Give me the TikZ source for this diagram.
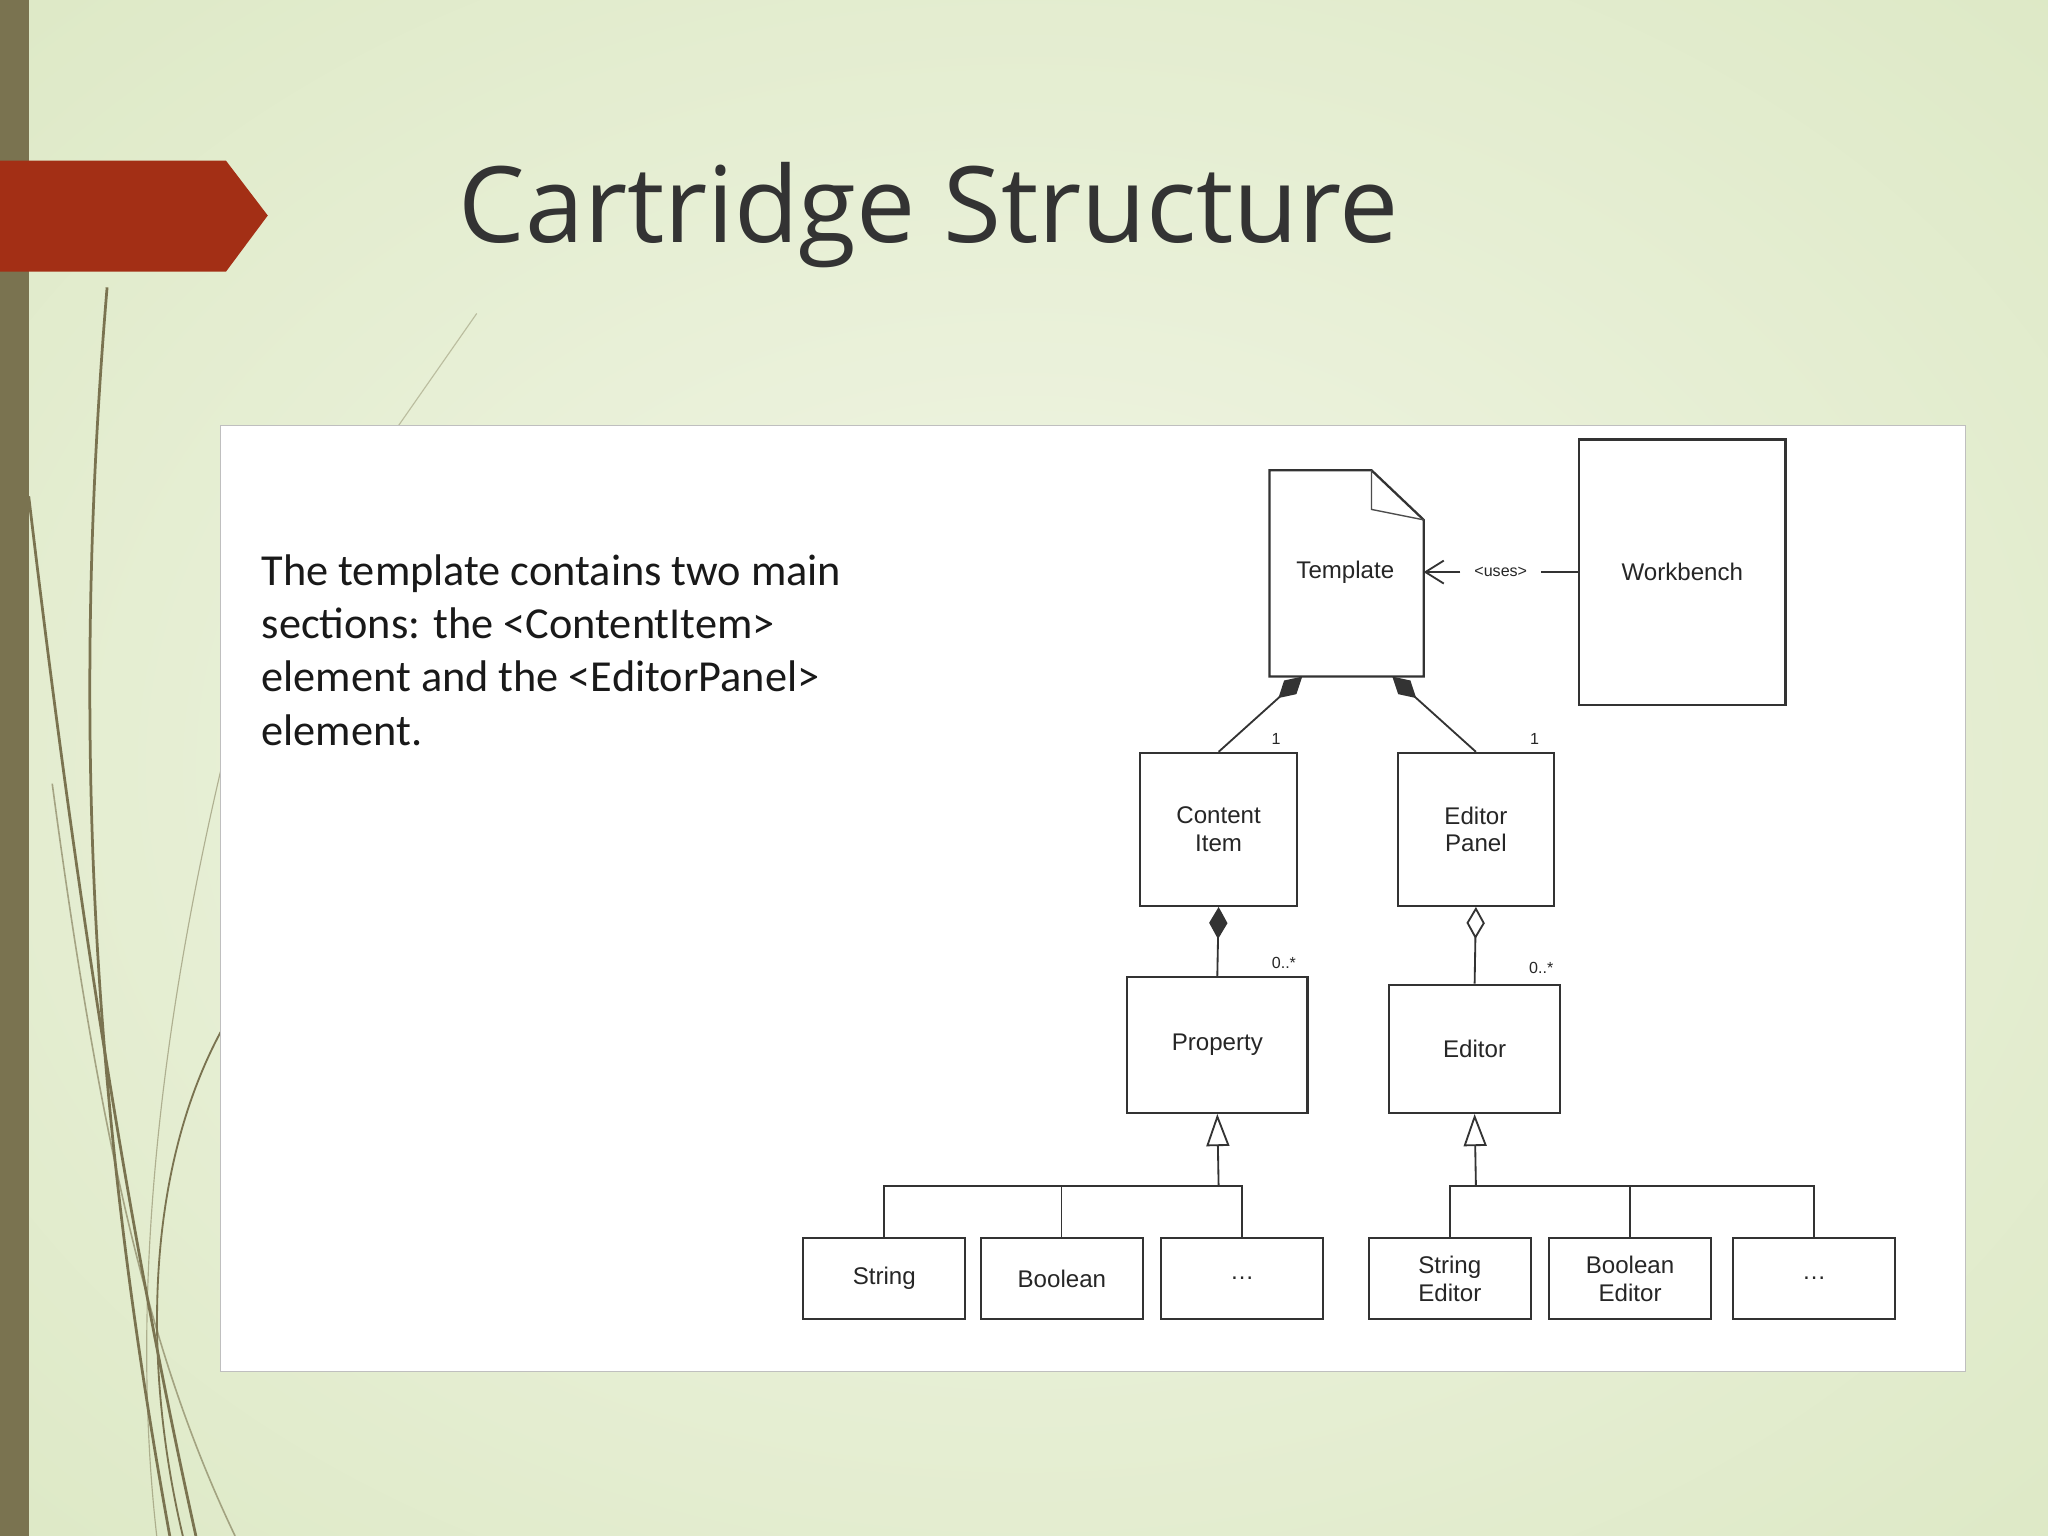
\documentclass[tikz,border=0pt]{standalone}
\usepackage{fontspec}
\setmainfont{Carlito}
\newfontfamily\diag{Liberation Sans}
\usetikzlibrary{arrows.meta,shapes.geometric}
\definecolor{bgA}{HTML}{F2F6E6}
\definecolor{bgB}{HTML}{DCE8C4}
\definecolor{bar}{HTML}{7A7350}
\definecolor{rd}{HTML}{A32F15}
\begin{document}
\begin{tikzpicture}[x=0.02cm,y=-0.02cm,
  box/.style={draw=black!80,line width=1pt,fill=white,inner sep=0pt,font=\diag\fontsize{10.5}{12}\selectfont,align=center,text=black!85},
  ln/.style={draw=black!80,line width=0.8pt},
  comp/.style={ln,{Diamond[length=14pt,width=8pt]}-},
  aggr/.style={ln,{Diamond[open,length=14pt,width=8pt]}-},
  inh/.style={ln,{Triangle[open,length=14pt,width=10pt]}-},
  mult/.style={font=\diag\fontsize{7}{8}\selectfont,text=black!85},
  deco/.style={draw=bar,line width=1.2pt}]
\useasboundingbox (0,0) rectangle (1568,1176);
\shade[inner color=bgA,outer color=bgB] (-400,-300) rectangle (1968,1476);
% decorative curves
\draw[deco] (22,380) .. controls (60,700) and (100,950) .. (150,1176);
\draw[deco] (82,220) .. controls (50,600) and (80,900) .. (130,1176);
\draw[deco,line width=0.7pt,opacity=0.6] (40,600) .. controls (80,900) and (120,1050) .. (180,1176);
\draw[deco,line width=0.8pt] (169,790) .. controls (110,900) and (110,1050) .. (140,1176);
\draw[deco,line width=0.5pt,opacity=0.5] (169,590) .. controls (120,800) and (100,1000) .. (120,1176);
\draw[deco,line width=0.5pt,opacity=0.4] (365,240) -- (305,326);
\fill[bar] (0,0) rectangle (22,1176);
\fill[rd] (0,123) -- (173,123) -- (205,165) -- (173,208) -- (0,208) -- cycle;
\node[anchor=west,font=\fontspec{Open Sans}\fontsize{46}{52}\selectfont,text=black!80] (title) at (345,165) {Cartridge Structure};
% panel
\node[draw=black!25,fill=white,minimum width=1336*0.02cm,minimum height=724*0.02cm,inner sep=0pt] (panel) at (837,688) {};
\node[anchor=north west,align=left,font=\fontsize{19.3}{23.3}\selectfont,text=black!90,inner sep=0pt] (txt) at (200,424) {The template contains two main\\sections: the <ContentItem>\\element and the <EditorPanel>\\element.};
% template doc shape
\draw[line width=1pt,draw=black!80,fill=white] (972,360) -- (1050,360) -- (1090,398) -- (1090,518) -- (972,518) -- cycle;
\draw[line width=0.6pt,draw=black!70] (1050,360) -- (1050,390) -- (1090,398);
\node[font=\diag\fontsize{10.5}{12}\selectfont,text=black!85] (tmpl) at (1030,438) {Template};
\coordinate (tR) at (1090,438);
\coordinate (tL1) at (997,518);
\coordinate (tL2) at (1066,518);
\node[box,minimum width=158*0.02cm,minimum height=203*0.02cm] (wb) at (1288,438) {Workbench};
\node[box,minimum width=120*0.02cm,minimum height=117*0.02cm] (ci) at (933,635) {Content\\Item};
\node[box,minimum width=119*0.02cm,minimum height=117*0.02cm] (ep) at (1130,635) {Editor\\Panel};
\node[box,minimum width=138*0.02cm,minimum height=104*0.02cm] (pr) at (932,800) {Property};
\node[box,minimum width=131*0.02cm,minimum height=98*0.02cm] (ed) at (1129,803) {Editor};
\foreach \n/\x/\t in {s1/677/{String},s2/813/{Boolean},s3/951/{\dots},e1/1110/{String\\Editor},e2/1248/{Boolean\\Editor},e3/1389/{\dots}}
  \node[box,minimum width=124*0.02cm,minimum height=62*0.02cm] (\n) at (\x,979) {\t};
% uses
\draw[ln,-{Straight Barb[length=8pt,width=10pt]}] (wb.west) -- (1180,438) (1118,438) -- (tR);
\node[mult,inner sep=1pt] (uses) at (1149,438) {<uses>};
% compositions
\draw[comp] (tL1) -- (ci.north);
\draw[comp] (tL2) -- (ep.north);
\node[mult] (m1) at (977,566) {1};
\node[mult] (m2) at (1175,566) {1};
\draw[comp] (ci.south) -- (pr.north);
\draw[aggr] (ep.south) -- (ed.north);
\node[mult] (m3) at (983,737) {0..*};
\node[mult] (m4) at (1180,741) {0..*};
% inheritance
\coordinate (j1) at (933,908);
\coordinate (j2) at (1130,908);
\draw[inh] (pr.south) -- (j1);
\draw[inh] (ed.south) -- (j2);
\draw[ln] (s1.north) |- (j1) -| (s3.north);
\draw[ln,line width=0.5pt] (s2.north) -- (s2.north|-j1);
\draw[ln] (e1.north) |- (j2) -| (e3.north);
\draw[ln] (e2.north) -- (e2.north|-j2);
\end{tikzpicture}
\end{document}
